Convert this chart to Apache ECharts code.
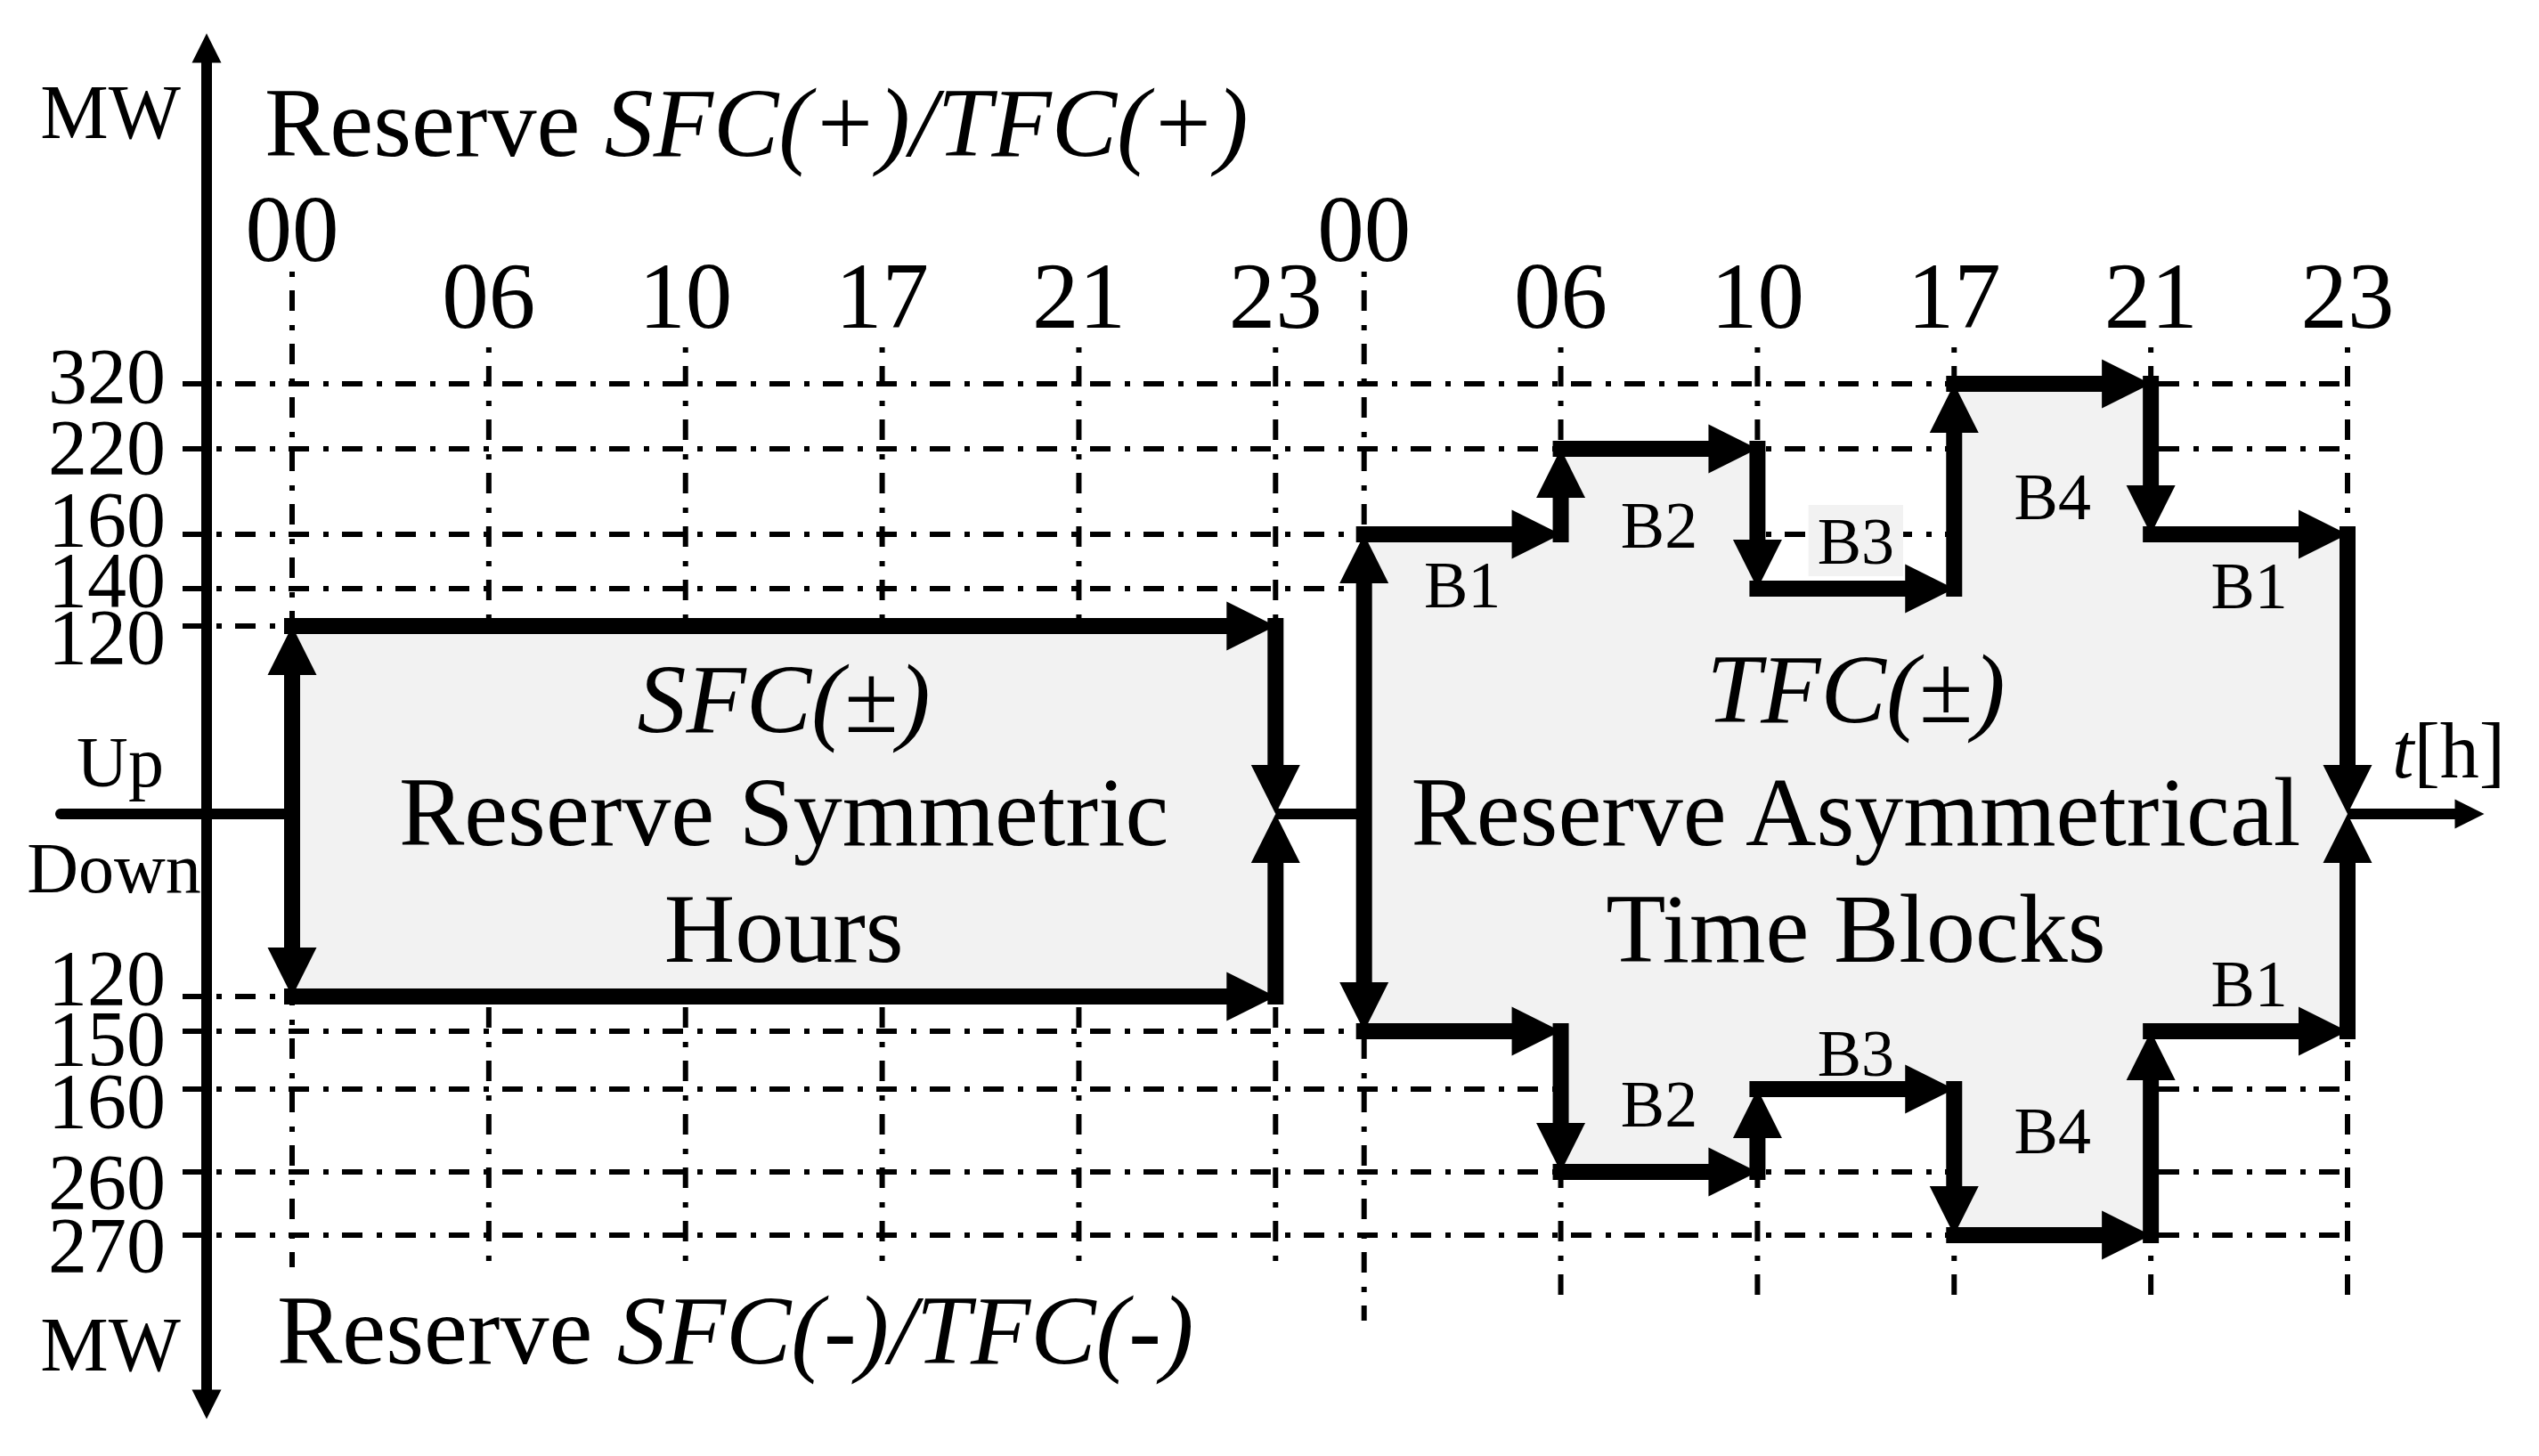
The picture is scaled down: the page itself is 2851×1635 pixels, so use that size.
<!DOCTYPE html>
<html lang="en">
<head>
    <meta charset="UTF-8"/>
    <script src="https://cdn.jsdelivr.net/npm/echarts@6.0.0/dist/echarts.min.js"></script>
    <title>SFC / TFC reserve</title>
    <style>html, body { margin: 0; padding: 0; background: #fff; }</style>
</head>
<body>
<div id="main" style="width: 2851px; height: 1635px;"></div>
<script type="text/javascript">
    // ---- data ----
    // hour marks on the time axis (drawn for two days side by side)
    var hours = ['00', '06', '10', '17', '21', '23'];
    // MW levels written on the y axis
    var upTicks = [320, 220, 160, 140, 120];
    var downTicks = [120, 150, 160, 260, 270];
    // SFC: same reserve in every interval (symmetric)
    var sfcUp = [120, 120, 120, 120, 120];
    var sfcDown = [120, 120, 120, 120, 120];
    // TFC: one value per time block
    var blocks = ['B1', 'B2', 'B3', 'B4', 'B1'];
    var tfcUp = [160, 220, 140, 320, 160];
    var tfcDown = [150, 260, 160, 270, 150];

    // ---- layout (the drawing is a sketch, not to scale) ----
    // each MW level has its own slot above / below the Up-Down line
    var upSlot = [483, 410, 314, 253, 211];
    var downSlot = [205, 244, 309, 402, 473];
    // where the tick numbers sit (they are nudged apart so they do not overlap)
    var upLabelAt = [492, 412, 331, 263, 199];
    var downLabelAt = [184, 252, 322, 413, 484];
    // block label heights
    var upBlockLabelY = [257, 324, 307, 356, 256];
    var upBlockBoxed = [0, 0, 1, 0, 0];
    var downBlockLabelY = [null, -326, -269, -356, -191];

    var DAY2 = 5.45;          // x where the second day starts
    var Y_MIN = -663, Y_MAX = 860;
    var AXIS_GAP = 96;        // px between y axis and first hour line
    var FONT = 'Liberation Serif';
    var FILL = '#f2f2f2';
    var LINE_W = 18, HEAD_L = 55, HEAD_W = 55;
    var DASH = [6, 15, 23, 16];

    function upY(mw) { return upSlot[upTicks.indexOf(mw)]; }
    function downY(mw) { return -downSlot[downTicks.indexOf(mw)]; }

    var day1X = hours.map(function (h, i) { return i; });
    var day2X = hours.map(function (h, i) { return DAY2 + i; });

    // outline of a reserve area
    function outline(xs, up, down) {
        var pts = [];
        for (var i = 0; i < up.length; i++) {
            pts.push([xs[i], upY(up[i])]);
            pts.push([xs[i + 1], upY(up[i])]);
        }
        for (var k = down.length - 1; k >= 0; k--) {
            pts.push([xs[k + 1], downY(down[k])]);
            pts.push([xs[k], downY(down[k])]);
        }
        return pts;
    }

    // arrow segments [x1, y1, x2, y2, headAtStart, headAtEnd]
    function arrows(xs, up, down) {
        var segs = [];
        var n = up.length;
        segs.push([xs[0], upY(up[0]), xs[0], downY(down[0]), 1, 1]);
        [[up, upY], [down, downY]].forEach(function (side) {
            var v = side[0], f = side[1];
            var i = 0;
            while (i < n) {
                var j = i;
                while (j + 1 < n && v[j + 1] === v[i]) j++;
                segs.push([xs[i], f(v[i]), xs[j + 1], f(v[i]), 0, 1]);
                if (j + 1 < n) segs.push([xs[j + 1], f(v[i]), xs[j + 1], f(v[j + 1]), 0, 1]);
                i = j + 1;
            }
            segs.push([xs[n], f(v[n - 1]), xs[n], 0, 0, 1]);
        });
        return segs;
    }

    var shapes = [outline(day1X, sfcUp, sfcDown), outline(day2X, tfcUp, tfcDown)];
    var segData = arrows(day1X, sfcUp, sfcDown).concat(arrows(day2X, tfcUp, tfcDown));

    // horizontal dash-dot lines [level, x end]
    var gridData = [];
    upTicks.forEach(function (mw) { gridData.push([upY(mw), mw === 120 ? 0 : DAY2 + 5]); });
    downTicks.forEach(function (mw) { gridData.push([downY(mw), mw === 120 ? 0 : DAY2 + 5]); });

    // vertical hour lines [x, top, bottom]
    var hourData = [];
    day1X.forEach(function (x, i) { hourData.push([x, i === 0 ? 609 : 524, -509]); });
    day2X.forEach(function (x, i) { hourData.push([x, i === 0 ? 609 : 524, i === 0 ? -569 : -546]); });

    // texts inside the chart [x, y, text, boxed, size]
    var textData = [];
    blocks.forEach(function (b, i) {
        var xc = (day2X[i] + day2X[i + 1]) / 2;
        textData.push([xc, upBlockLabelY[i], b, upBlockBoxed[i], 74]);
        if (downBlockLabelY[i] !== null) textData.push([xc, downBlockLabelY[i], b, 0, 74]);
    });
    var sfcMid = (day1X[0] + day1X[5]) / 2, tfcMid = (day2X[0] + day2X[5]) / 2;
    textData.push([sfcMid, 129, '{i|SFC(±)}', 0, 110]);
    textData.push([sfcMid, 2, 'Reserve Symmetric', 0, 110]);
    textData.push([sfcMid, -129, 'Hours', 0, 110]);
    textData.push([tfcMid, 140, '{i|TFC(±)}', 0, 110]);
    textData.push([tfcMid, 2, 'Reserve Asymmetrical', 0, 110]);
    textData.push([tfcMid, -129, 'Time Blocks', 0, 110]);

    var hourSlots = day1X.concat(day2X);
    var hourNames = hours.concat(hours);
    var tickSlots = upTicks.map(upY).concat(downTicks.map(downY));
    var labelSlots = upLabelAt.concat(downLabelAt.map(function (v) { return -v; }));
    var labelNames = upTicks.concat(downTicks);
    // empty labels at both ends so that the real end labels are never dropped
    var labelValues = [Y_MIN].concat(labelSlots, [Y_MAX]);

    function nearest(list, v) {
        var best = 0;
        for (var i = 1; i < list.length; i++) {
            if (Math.abs(list[i] - v) < Math.abs(list[best] - v)) best = i;
        }
        return best;
    }

    var ARROW = 'path://M0,0 L10,20 L-10,20 Z';

    // plain text placed by its baseline
    function txt(x, base, size, text, align) {
        return {
            type: 'text', x: x, y: base - 0.34 * size, z: 10,
            style: {
                text: text, fill: '#000', fontSize: size, fontFamily: FONT,
                textAlign: align, align: align, textVerticalAlign: 'middle', verticalAlign: 'middle',
                rich: {i: {fontStyle: 'italic', fontSize: size, fontFamily: FONT}}
            }
        };
    }

    var myChart = echarts.init(document.getElementById('main'), null, {renderer: 'svg'});

    var option = {
        backgroundColor: '#ffffff',
        animation: false,
        textStyle: {fontFamily: FONT, color: '#000'},
        grid: [
            {left: 328, right: 215, top: 54, bottom: 58},
            {left: 68, right: 78, top: 54, bottom: 58}
        ],
        xAxis: [
            {
                gridIndex: 0, type: 'value', min: 0, max: DAY2 + 5,
                position: 'top', offset: -339,
                axisLine: {show: false, onZero: false},
                axisTick: {show: false},
                splitLine: {show: false},
                axisLabel: {
                    customValues: hourSlots,
                    margin: 8,
                    showMinLabel: true, showMaxLabel: true, hideOverlap: false,
                    formatter: function (v) {
                        var h = hourNames[nearest(hourSlots, v)];
                        return h === '00' ? '{hi|' + h + '}' : '{n|' + h + '}';
                    },
                    rich: {
                        hi: {fontSize: 105, fontFamily: FONT, color: '#000', padding: [0, 0, 75, 0]},
                        n: {fontSize: 105, fontFamily: FONT, color: '#000'}
                    }
                }
            },
            {
                // the time axis t[h]
                gridIndex: 1, type: 'value', min: 0, max: 1,
                axisLine: {
                    show: true, onZero: true,
                    symbol: ['none', ARROW], symbolSize: [33, 33],
                    lineStyle: {color: '#000', width: 12}
                },
                axisTick: {show: false},
                axisLabel: {show: false},
                splitLine: {show: false}
            }
        ],
        yAxis: [
            {
                gridIndex: 0, type: 'value', min: Y_MIN, max: Y_MAX,
                position: 'left', offset: AXIS_GAP,
                axisLine: {
                    show: true, onZero: false,
                    symbol: [ARROW, ARROW], symbolSize: [33, 33],
                    lineStyle: {color: '#000', width: 12}
                },
                axisTick: {
                    show: true, customValues: tickSlots, length: 27,
                    lineStyle: {color: '#000', width: 6}
                },
                axisLabel: {
                    customValues: labelValues,
                    margin: 46,
                    showMinLabel: true, showMaxLabel: true, hideOverlap: false,
                    fontSize: 88, lineHeight: 60, fontFamily: FONT, color: '#000',
                    formatter: function (v) {
                        var k = nearest(labelSlots, v);
                        return Math.abs(labelSlots[k] - v) < 1 ? String(labelNames[k]) : '';
                    }
                },
                splitLine: {show: false}
            },
            {
                gridIndex: 1, type: 'value', min: Y_MIN, max: Y_MAX, show: false
            }
        ],
        graphic: [
            txt(124, 155, 86, 'MW', 'center'),
            txt(124, 1539, 86, 'MW', 'center'),
            txt(297, 175, 110, 'Reserve {i|SFC(+)/TFC(+)}', 'left'),
            txt(311, 1531, 110, 'Reserve {i|SFC(-)/TFC(-)}', 'left'),
            txt(135, 883, 80, 'Up', 'center'),
            txt(128, 1002, 80, 'Down', 'center'),
            txt(2686, 873, 88, '{i|t}[h]', 'left')
        ],
        series: [
            {
                // horizontal dash-dot lines
                type: 'custom', xAxisIndex: 0, yAxisIndex: 0, z: 1,
                data: gridData,
                renderItem: function (params, api) {
                    var y = api.coord([0, api.value(0)])[1];
                    var x0 = params.coordSys.x - AXIS_GAP + 11;
                    var x1 = api.coord([api.value(1), 0])[0];
                    return {
                        type: 'line',
                        shape: {x1: x0, y1: y, x2: x1, y2: y},
                        style: {stroke: '#000', lineWidth: 6, lineDash: DASH}
                    };
                }
            },
            {
                // vertical hour lines
                type: 'custom', xAxisIndex: 0, yAxisIndex: 0, z: 1,
                data: hourData,
                renderItem: function (params, api) {
                    var a = api.coord([api.value(0), api.value(1)]);
                    var b = api.coord([api.value(0), api.value(2)]);
                    return {
                        type: 'line',
                        shape: {x1: a[0], y1: a[1], x2: b[0], y2: b[1]},
                        style: {stroke: '#000', lineWidth: 6, lineDash: DASH}
                    };
                }
            },
            {
                // reserve areas
                type: 'custom', xAxisIndex: 0, yAxisIndex: 0, z: 2,
                data: [[0], [1]],
                renderItem: function (params, api) {
                    var pts = shapes[params.dataIndex].map(function (p) { return api.coord(p); });
                    return {type: 'polygon', shape: {points: pts}, style: {fill: FILL}};
                }
            },
            {
                // thick arrows
                type: 'custom', xAxisIndex: 0, yAxisIndex: 0, z: 3,
                data: segData,
                renderItem: function (params, api) {
                    var a = api.coord([api.value(0), api.value(1)]);
                    var b = api.coord([api.value(2), api.value(3)]);
                    var dx = b[0] - a[0], dy = b[1] - a[1];
                    var len = Math.sqrt(dx * dx + dy * dy);
                    var ux = dx / len, uy = dy / len;
                    var hs = api.value(4), he = api.value(5);
                    var p0 = hs ? [a[0] + ux * HEAD_L * 0.8, a[1] + uy * HEAD_L * 0.8] : a;
                    var p1 = he ? [b[0] - ux * HEAD_L * 0.8, b[1] - uy * HEAD_L * 0.8] : b;
                    function head(tip, vx, vy) {
                        var bx = tip[0] - vx * HEAD_L, by = tip[1] - vy * HEAD_L;
                        var px = -vy * HEAD_W / 2, py = vx * HEAD_W / 2;
                        return {
                            type: 'polygon',
                            shape: {points: [tip, [bx + px, by + py], [bx - px, by - py]]},
                            style: {fill: '#000'}
                        };
                    }
                    var children = [{
                        type: 'line',
                        shape: {x1: p0[0], y1: p0[1], x2: p1[0], y2: p1[1]},
                        style: {stroke: '#000', lineWidth: LINE_W, lineCap: 'square'}
                    }];
                    if (he) children.push(head(b, ux, uy));
                    if (hs) children.push(head(a, -ux, -uy));
                    return {type: 'group', children: children};
                }
            },
            {
                // block names and captions
                type: 'custom', xAxisIndex: 0, yAxisIndex: 0, z: 4,
                data: textData,
                renderItem: function (params, api) {
                    var d = textData[params.dataIndex];
                    var p = api.coord([d[0], d[1]]);
                    var size = d[4];
                    return {
                        type: 'text', x: p[0], y: p[1],
                        style: {
                            text: d[2], fill: '#000', fontSize: size, fontFamily: FONT,
                            align: 'center', verticalAlign: 'middle',
                            backgroundColor: d[3] ? FILL : 'transparent',
                            padding: d[3] ? [4, 10, 2, 10] : 0,
                            rich: {i: {fontStyle: 'italic', fontSize: size, fontFamily: FONT}}
                        }
                    };
                }
            }
        ]
    };

    myChart.setOption(option);
</script>
</body>
</html>
